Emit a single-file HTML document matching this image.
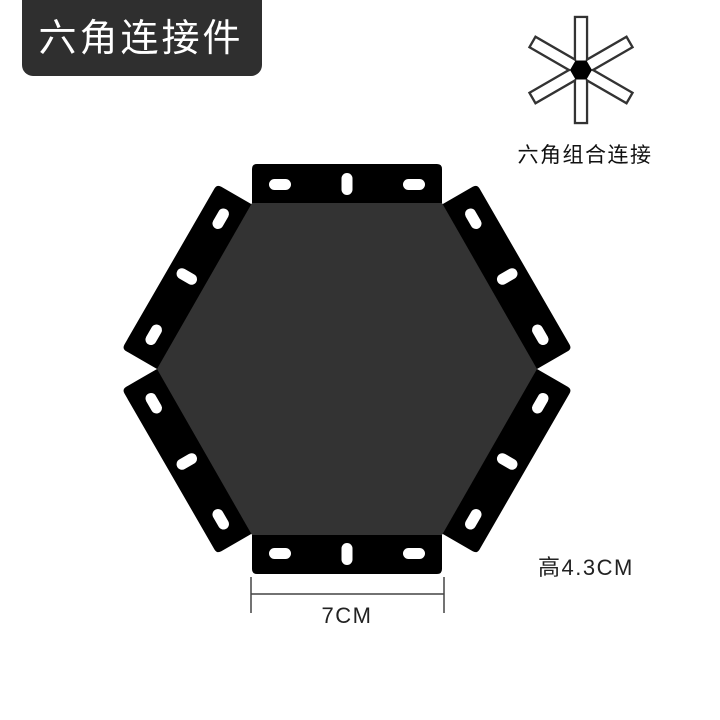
<!DOCTYPE html>
<html><head><meta charset="utf-8"><style>
html,body{margin:0;padding:0;background:#fff;width:720px;height:720px;overflow:hidden}
svg{display:block}
text{font-family:"Liberation Sans","Noto Sans CJK SC",sans-serif}
</style></head><body>
<svg width="720" height="720" viewBox="0 0 720 720" xmlns="http://www.w3.org/2000/svg">
<rect x="22" y="-12" width="240" height="88" rx="11" fill="#2f2f2f"/>
<text x="141" y="51" font-size="38" fill="#fff" text-anchor="middle" letter-spacing="3">六角连接件</text>

<g transform="translate(581,70)">
  <g fill="none" stroke="#333" stroke-width="2.4">
    <rect x="-6" y="-53" width="12" height="106"/>
    <rect x="-6" y="-56" width="12" height="112" transform="rotate(60)"/>
    <rect x="-6" y="-56" width="12" height="112" transform="rotate(-60)"/>
  </g>
  <g fill="#fff">
    <rect x="-4.8" y="-51.8" width="9.6" height="103.6"/>
    <rect x="-4.8" y="-54.8" width="9.6" height="109.6" transform="rotate(60)"/>
    <rect x="-4.8" y="-54.8" width="9.6" height="109.6" transform="rotate(-60)"/>
  </g>
  <polygon points="-11,0 -5.5,-9.5 5.5,-9.5 11,0 5.5,9.5 -5.5,9.5" fill="#000"/>
</g>
<text x="585" y="162" font-size="21" fill="#111" text-anchor="middle" letter-spacing="1.5">六角组合连接</text>

<g transform="translate(347,369)">
  <g id="tab">
    <path d="M-95,-163 L-95,-200 Q-95,-205 -90,-205 L90,-205 Q95,-205 95,-200 L95,-163 Z" fill="#000"/>
    <rect x="-78" y="-190" width="22" height="11" rx="5.5" fill="#fff"/>
    <rect x="56" y="-190" width="22" height="11" rx="5.5" fill="#fff"/>
    <rect x="-5.5" y="-196" width="11" height="22" rx="5.5" fill="#fff"/>
  </g>
  <use href="#tab" transform="rotate(60)"/>
  <use href="#tab" transform="rotate(120)"/>
  <use href="#tab" transform="rotate(180)"/>
  <use href="#tab" transform="rotate(240)"/>
  <use href="#tab" transform="rotate(300)"/>
  <polygon points="-95,-166 95,-166 190,0 95,166 -95,166 -190,0" fill="#333"/>
</g>

<g stroke="#444" stroke-width="1.5">
  <line x1="251" y1="577" x2="251" y2="613"/>
  <line x1="444" y1="577" x2="444" y2="613"/>
  <line x1="251" y1="594" x2="444" y2="594"/>
</g>
<text x="347" y="623" font-size="22" fill="#222" text-anchor="middle" letter-spacing="1.5">7CM</text>
<text x="538" y="575" font-size="22" fill="#222" letter-spacing="1.5">高4.3CM</text>
</svg>
</body></html>
